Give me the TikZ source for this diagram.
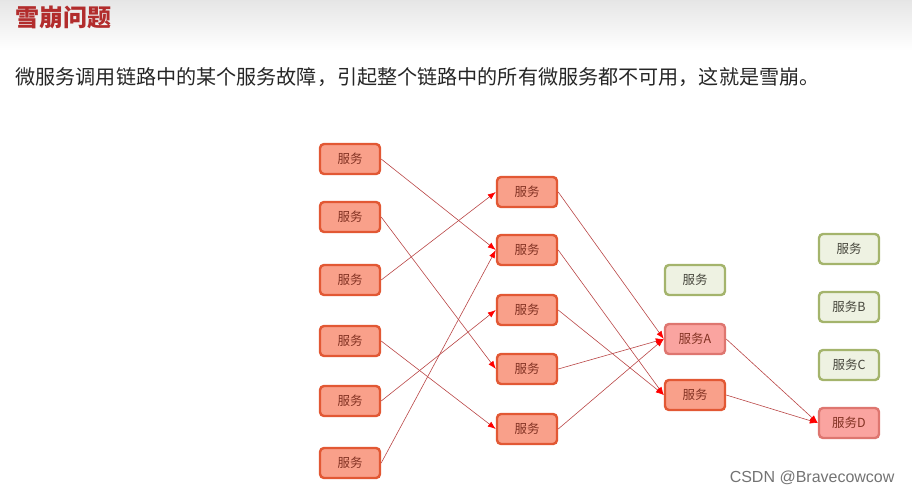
\documentclass[tikz,border=0pt]{standalone}
\usepackage{fontspec}
\setmainfont{Liberation Sans}
\newfontfamily\cjk{Noto Sans CJK SC}
\usetikzlibrary{arrows.meta}
\definecolor{svcfill}{RGB}{249,160,138}
\definecolor{svcdraw}{RGB}{226,88,52}
\definecolor{svctext}{RGB}{130,50,35}
\definecolor{hitfill}{RGB}{250,164,160}
\definecolor{hitdraw}{RGB}{222,118,112}
\definecolor{okfill}{RGB}{238,242,226}
\definecolor{okdraw}{RGB}{164,180,108}
\definecolor{oktext}{RGB}{70,70,60}
\definecolor{wire}{RGB}{185,70,70}
\definecolor{titlered}{RGB}{178,44,44}
\tikzset{
  svc/.style={draw=svcdraw,fill=svcfill,line width=2.4pt,rounded corners=4pt,
    minimum width=60pt,minimum height=30pt,inner sep=0pt,text=svctext,
    font=\cjk\fontsize{12.5}{14}\selectfont},
  hit/.style={svc,draw=hitdraw,fill=hitfill},
  ok/.style={svc,draw=okdraw,fill=okfill,text=oktext},
  call/.style={draw=wire,line width=0.6pt,-{Latex[length=8pt,width=6pt,color=red]}}
}
\begin{document}
\begin{tikzpicture}[x=1pt,y=-1pt]
  \useasboundingbox (0,0) rectangle (912,493);
  \shade[top color=black!10,bottom color=white] (0,0) rectangle (912,50);
  \node[anchor=west,text=titlered,font=\cjk\bfseries\fontsize{24}{26}\selectfont] (title) at (12,17) {雪崩问题};
  \node[anchor=west,font=\cjk\fontsize{20.1}{22}\selectfont,text=black!85] (intro) at (12,77)
    {微服务调用链路中的某个服务故障，引起整个链路中的所有微服务都不可用，这就是雪崩。};
  % first column
  \foreach \i/\y in {1/159,2/217,3/280,4/341,5/401,6/463}
    \node[svc] (c\i) at (350,\y) {服务};
  % second column
  \foreach \i/\y in {1/192,2/250,3/310,4/369,5/429}
    \node[svc] (m\i) at (527,\y) {服务};
  % third column
  \node[ok] (g1) at (695,280) {服务};
  \node[hit] (a) at (695,339) {服务A};
  \node[svc] (r) at (695,395) {服务};
  % last column
  \node[ok] (g2) at (849,249) {服务};
  \node[ok] (b) at (849,307) {服务B};
  \node[ok] (c) at (849,365) {服务C};
  \node[hit] (d) at (849,423) {服务D};
  % calls
  \draw[call] (c1.east) -- (m2.west);
  \draw[call] (c2.east) -- (m4.west);
  \draw[call] (c3.east) -- (m1.west);
  \draw[call] (c4.east) -- (m5.west);
  \draw[call] (c5.east) -- (m3.west);
  \draw[call] (c6.east) -- (m2.west);
  \draw[call] (m1.east) -- (a.west);
  \draw[call] (m2.east) -- (r.west);
  \draw[call] (m3.east) -- (r.west);
  \draw[call] (m4.east) -- (a.west);
  \draw[call] (m5.east) -- (a.west);
  \draw[call] (a.east) -- (d.west);
  \draw[call] (r.east) -- (d.west);
  \node[anchor=east,text=black!55,font=\fontsize{16}{18}\selectfont] (mark) at (898,478) {CSDN @Bravecowcow};
\end{tikzpicture}
\end{document}
